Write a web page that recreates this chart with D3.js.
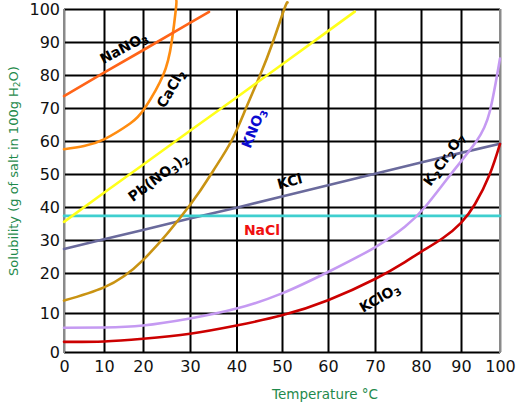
<!DOCTYPE html>
<html>
<head>
<meta charset="utf-8">
<script src="https://cdn.jsdelivr.net/npm/d3@7"></script>
<style>
  html, body { margin: 0; padding: 0; background: #fff; }
  svg { display: block; }
</style>
</head>
<body>
<svg id="chart" width="522" height="405"></svg>
<script>
// ---------- DATA ----------
const xTicks = [0, 10, 20, 30, 40, 50, 60, 70, 80, 90, 100];
const yTicks = [0, 10, 20, 30, 40, 50, 60, 70, 80, 90, 100];

const nano3   = [[0,73.6],[10,80.7],[20,87.5],[30,95.8],[34.1,99.1]];
const cacl2   = [[0,57.5],[5,58.5],[10,60.5],[16.7,65.3],[20.4,70],[24.3,80],[26.1,90],[27,100],[27.1,102.5]];
const pbno32  = [[0,35.5],[10,44.3],[20,52.8],[30,63.1],[40,73.2],[50,83.2],[60,93.3],[65.7,99.2]];
const kno3    = [[0,13.1],[10,16.4],[20,23.9],[30,40.6],[35,51],[38.9,60],[42.1,70],[45.2,80],[48,90],[50.5,100],[51.2,102]];
const kcl     = [[0,27.3],[10,30.2],[20,33.0],[30,36.5],[40,39.8],[50,43.2],[60,46.6],[70,50.1],[80,53.5],[90,56.4],[100,59.2]];
const nacl    = [[0,37.3],[100,37.3]];
const k2cr2o7 = [[0,6.2],[10,6.3],[20,6.8],[30,8.6],[40,11.1],[50,14.9],[60,20.3],[70,27.8],[76.5,34],[81,40],[87.5,50],[94,60],[97.4,69],[100,85]];
const kclo3   = [[0,2.6],[10,2.7],[20,3.4],[30,4.7],[40,6.8],[50,9.4],[60,13.2],[70,18.5],[76.5,23.3],[80,26.4],[85.5,30.6],[90,35.2],[93.6,40.9],[97.4,50],[100,59.1]];

const xTitle = "Temperature °C";
const yTitle = ["Solubility (g of salt in 100g H", "2", "O)"];

// series: name, values, colour, curved?
const series = [
  { key: "KCl",     values: kcl,     color: "#6a6a9c", curved: false },
  { key: "NaCl",    values: nacl,    color: "#3fcfcf", curved: false },
  { key: "K2Cr2O7", values: k2cr2o7, color: "#c59af2", curved: true },
  { key: "KClO3",   values: kclo3,   color: "#cc0000", curved: true },
  { key: "KNO3",    values: kno3,    color: "#c99312", curved: true },
  { key: "Pb(NO3)2",values: pbno32,  color: "#ffff1a", curved: false },
  { key: "CaCl2",   values: cacl2,   color: "#ff8c10", curved: true },
  { key: "NaNO3",   values: nano3,   color: "#ff6418", curved: false }
];

// label text parts: [text, isSubscript]
const labels = [
  { parts: [["NaNO",0],["3",1]],                     color: "#000" },
  { parts: [["CaCl",0],["2",1]],                     color: "#000" },
  { parts: [["Pb(NO",0],["3",1],[")",0],["2",1]],    color: "#000" },
  { parts: [["KNO",0],["3",1]],                      color: "#0a0ad0" },
  { parts: [["KCl",0]],                              color: "#000" },
  { parts: [["NaCl",0]],                             color: "#f01010" },
  { parts: [["K",0],["2",1],["Cr",0],["2",1],["O",0],["7",1]], color: "#000" },
  { parts: [["KClO",0],["3",1]],                     color: "#000" }
];

// ---------- LAYOUT ----------
const labelPlacement = [
  { x: 126, y: 52,  rot: -28 },
  { x: 175, y: 91,  rot: -60 },
  { x: 161, y: 181, rot: -37 },
  { x: 258, y: 130, rot: -68 },
  { x: 291, y: 186, rot: -15 },
  { x: 262, y: 235, rot: 0 },
  { x: 448, y: 162, rot: -55 },
  { x: 382, y: 302, rot: -30 }
];

const svg = d3.select("#chart");
const font = "'DejaVu Sans', Verdana, sans-serif";

const x = d3.scaleLinear().domain(xTicks)
  .range([64, 104, 143, 190, 236.5, 282, 328, 375, 421, 461, 500]);
const y = d3.scaleLinear().domain(yTicks)
  .range([352, 313, 273, 240, 207, 174, 141, 108, 75, 42, 9]);

const pLeft = 64, pRight = 500, pTop = 9, pBottom = 352;

// grid via axes
const gx = svg.append("g").attr("transform", `translate(0,${pBottom})`)
  .call(d3.axisBottom(x).tickValues(xTicks).tickSize(-(pBottom - pTop)).tickPadding(6));
gx.select(".domain").remove();
gx.selectAll(".tick line").attr("stroke", "#000").attr("stroke-width", 2);
gx.selectAll(".tick text").attr("font-family", font).attr("font-size", 16).attr("fill", "#111").attr("dy", "0.9em");

const gy = svg.append("g").attr("transform", `translate(${pLeft},0)`)
  .call(d3.axisLeft(y).tickValues(yTicks).tickSize(-(pRight - pLeft)).tickPadding(4));
gy.select(".domain").remove();
gy.selectAll(".tick line").attr("stroke", "#000").attr("stroke-width", 2);
gy.selectAll(".tick text").attr("font-family", font).attr("font-size", 16).attr("fill", "#111");

// gray borders on left/right
gx.selectAll(".tick line").filter(d => d === 0 || d === 100).attr("stroke", "#8a8a8a");
svg.append("line").attr("x1", pLeft).attr("x2", pLeft).attr("y1", pTop).attr("y2", pBottom + 1)
  .attr("stroke", "#8a8a8a").attr("stroke-width", 2);
svg.append("line").attr("x1", pRight).attr("x2", pRight).attr("y1", pTop).attr("y2", pBottom + 1)
  .attr("stroke", "#8a8a8a").attr("stroke-width", 2);

// curves
const lineCurved = d3.line().x(d => x(d[0])).y(d => y(d[1])).curve(d3.curveNatural);
const lineStraight = d3.line().x(d => x(d[0])).y(d => y(d[1]));

svg.append("g").selectAll("path").data(series).join("path")
  .attr("d", s => (s.curved ? lineCurved : lineStraight)(s.values))
  .attr("fill", "none")
  .attr("stroke", s => s.color)
  .attr("stroke-width", 2.6)
  .attr("stroke-linecap", "round");

// labels
labels.forEach((lab, i) => {
  const p = labelPlacement[i];
  const t = svg.append("text")
    .attr("transform", `translate(${p.x},${p.y}) rotate(${p.rot})`)
    .attr("text-anchor", "middle")
    .attr("font-family", font)
    .attr("font-weight", "bold")
    .attr("font-size", 14)
    .attr("fill", lab.color);
  let prevSub = false;
  lab.parts.forEach(([txt, sub]) => {
    const ts = t.append("tspan").text(txt);
    if (sub) { ts.attr("font-size", 10).attr("dy", prevSub ? 0 : 3); }
    else { ts.attr("dy", prevSub ? -3 : 0); }
    prevSub = !!sub;
  });
});

// axis titles
svg.append("text")
  .attr("x", 325).attr("y", 399)
  .attr("text-anchor", "middle")
  .attr("font-family", font).attr("font-size", 13.5)
  .attr("fill", "#1f8a4c")
  .text(xTitle);

const yt = svg.append("text")
  .attr("transform", `translate(18,171) rotate(-90)`)
  .attr("text-anchor", "middle")
  .attr("font-family", font).attr("font-size", 13)
  .attr("fill", "#1f8a4c");
yt.append("tspan").text(yTitle[0]);
yt.append("tspan").text(yTitle[1]).attr("font-size", 9).attr("dy", 2);
yt.append("tspan").text(yTitle[2]).attr("dy", -2);
</script>
</body>
</html>
